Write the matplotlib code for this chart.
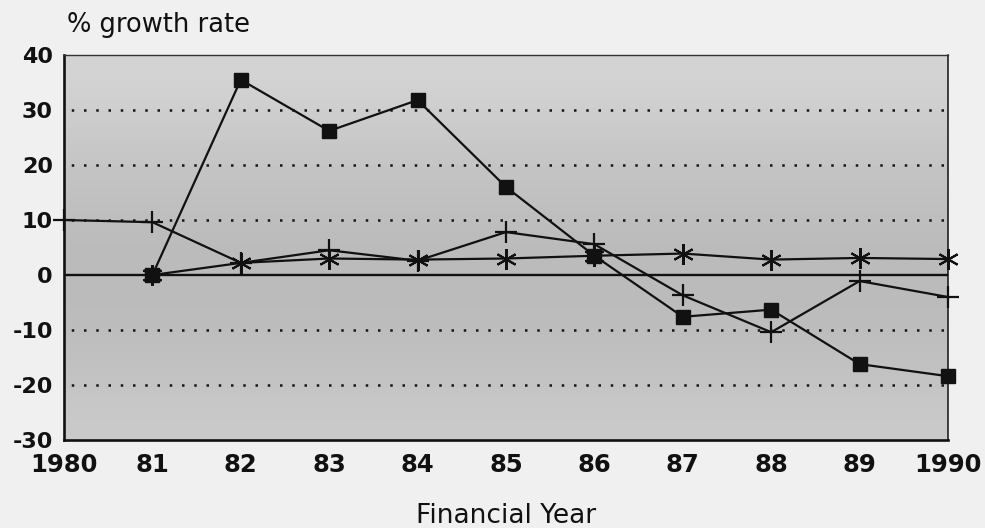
import matplotlib
matplotlib.use("Agg")
import matplotlib.pyplot as plt
import numpy as np

# Financial years (1980 .. 1990) and growth rates in %
years = [1980, 1981, 1982, 1983, 1984, 1985, 1986, 1987, 1988, 1989, 1990]
year_labels = ["1980", "81", "82", "83", "84", "85", "86", "87", "88", "89", "1990"]

series_square = [np.nan, 0.0, 35.5, 26.2, 31.8, 16.0, 3.5, -7.6, -6.3, -16.2, -18.4]
series_plus = [10.0, 9.6, 2.2, 4.5, 2.6, 7.8, 5.6, -3.7, -10.4, -1.1, -4.0]
series_star = [np.nan, 0.0, 2.2, 3.0, 2.8, 3.0, 3.5, 3.9, 2.8, 3.1, 2.9]

y_ticks = [-30, -20, -10, 0, 10, 20, 30, 40]
grid_levels = [-20, -10, 10, 20, 30]

plt.rcParams["axes.unicode_minus"] = False

fig = plt.figure(figsize=(9.85, 5.28), dpi=100, facecolor="#f0f0f0")
ax = fig.add_axes([64 / 985, 1 - 440 / 528, (948 - 64) / 985, (440 - 55) / 528])

# shaded plot area: lighter at the top, darker through the middle
shade = np.array([0.83, 0.80, 0.77, 0.75, 0.73, 0.73, 0.74, 0.76, 0.79])[:, None]
ax.imshow(shade, cmap="gray", vmin=0, vmax=1, aspect="auto",
          extent=[years[0], years[-1], -30, 40], interpolation="bicubic", zorder=0)

ax.set_xlim(years[0], years[-1])
ax.set_ylim(-30, 40)

for lvl in grid_levels:
    ax.axhline(lvl, color="#151515", lw=1.8, ls=(2, (1, 3.9)), zorder=1)
ax.axhline(0, color="#111111", lw=1.7, zorder=2)

line_kw = dict(color="#111111", lw=1.6, clip_on=False)
ax.plot(years, series_plus, marker="+", ms=16, mew=1.6, zorder=3, **line_kw)
ax.plot(years, series_star, marker=(6, 2, 0), ms=15, mew=1.5, zorder=4, **line_kw)
ax.plot(years, series_square, marker="s", ms=9.5, mfc="#111111", mec="#111111",
        zorder=5, **line_kw)

for side in ("left", "bottom"):
    ax.spines[side].set_linewidth(1.9)
    ax.spines[side].set_color("#111111")
ax.spines["top"].set_linewidth(1.0)
ax.spines["top"].set_color("#333333")
ax.spines["right"].set_linewidth(1.1)
ax.spines["right"].set_color("#111111")

ax.set_xticks(years)
ax.set_xticklabels(year_labels, fontsize=17.5, fontweight="bold", family="DejaVu Sans")
ax.set_yticks(y_ticks)
ax.set_yticklabels([str(v) for v in y_ticks], fontsize=16, fontweight="bold",
                   family="DejaVu Sans")
ax.tick_params(axis="both", length=0, colors="#111111")
ax.tick_params(axis="y", pad=8)
ax.tick_params(axis="x", pad=9)

fig.text(67 / 985, 1 - 32 / 528, "% growth rate", fontsize=18.5, color="#111111",
         family="DejaVu Sans", ha="left", va="baseline")
fig.text(506 / 985, 1 - 523 / 528, "Financial Year", fontsize=19, color="#111111",
         family="DejaVu Sans", ha="center", va="baseline")

fig.savefig("out.png", dpi=100, facecolor=fig.get_facecolor())
